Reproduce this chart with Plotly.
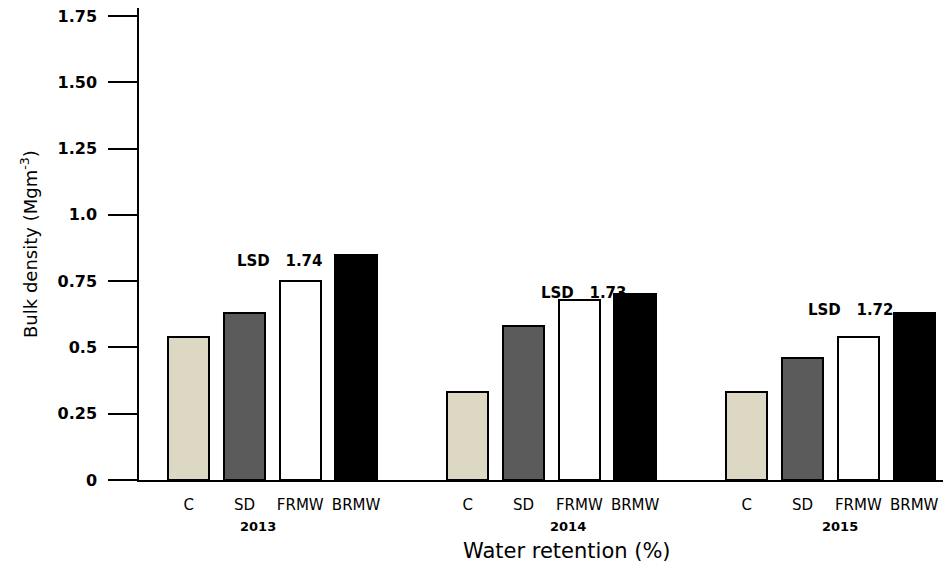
import plotly.graph_objects as go

years = ["2013", "2014", "2015"]
treatments = ["C", "SD", "FRMW", "BRMW"]
values = {
    "C":    [0.54, 0.33, 0.33],
    "SD":   [0.63, 0.58, 0.46],
    "FRMW": [0.75, 0.68, 0.54],
    "BRMW": [0.85, 0.70, 0.63],
}
lsd_values = ["1.74", "1.73", "1.72"]
lsd_heights = [0.825, 0.705, 0.64]
colors = {"C": "#ddd8c3", "SD": "#5b5b5b", "FRMW": "#ffffff", "BRMW": "#000000"}

y_tickvals = [0, 0.25, 0.5, 0.75, 1.0, 1.25, 1.5, 1.75]
y_ticktext = ["0", "0.25", "0.5", "0.75", "1.0", "1.25", "1.50", "1.75"]

GROUP_GAP = 5  # group spacing in slot units
FONT = "DejaVu Sans"

fig = go.Figure()
tick_x, tick_t = [], []
for i, t in enumerate(treatments):
    xs = [g * GROUP_GAP + i for g in range(len(years))]
    tick_x += xs
    tick_t += [t] * len(years)
    fig.add_trace(go.Bar(
        x=xs, y=values[t], width=0.74, name=t,
        marker=dict(color=colors[t], line=dict(color="#000000", width=2)),
        showlegend=False,
    ))

# year labels
year_offsets = [-0.25, 0.3, 0.17]
for g, yr in enumerate(years):
    fig.add_annotation(x=g * GROUP_GAP + 1.5 + year_offsets[g], y=0, xref="x", yref="y",
                       xanchor="center", yshift=-46, text="<b>" + yr + "</b>", showarrow=False,
                       font=dict(family=FONT, size=13, color="#000"))
# LSD labels
lsd_offsets = [0.13, 0.59, 0.37]
for g, (lv, lh) in enumerate(zip(lsd_values, lsd_heights)):
    fig.add_annotation(x=g * GROUP_GAP + 1.5 + lsd_offsets[g], y=lh, xref="x", yref="y",
                       xanchor="center",
                       text="<b>LSD\u00a0\u00a0\u00a0" + lv + "</b>", showarrow=False,
                       font=dict(family=FONT, size=15, color="#000"))

fig.add_annotation(x=0.527, y=0, xref="paper", yref="paper", yshift=-71,
                   xanchor="center", yanchor="middle",
                   text="Water retention (%)", showarrow=False,
                   font=dict(family=FONT, size=21, color="#000"))
fig.add_annotation(x=-0.1355, y=0.5, xref="paper", yref="paper", textangle=-90,
                   xanchor="center", yanchor="middle",
                   text="Bulk density (Mgm<sup>-3</sup>)", showarrow=False,
                   font=dict(family=FONT, size=18, color="#000"))

# page body has an 8px default margin, so the figure is offset by 8px
fig.update_layout(
    width=943, height=557,
    margin=dict(l=131, r=0, t=0, b=85),
    plot_bgcolor="white", paper_bgcolor="white",
    bargap=0,
    xaxis=dict(range=[-0.89, 13.66], showline=True, linecolor="#000", linewidth=2,
               showgrid=False, zeroline=False, tickmode="array",
               tickvals=tick_x, ticktext=tick_t, ticks="", ticklabelstandoff=10,
               tickfont=dict(family=FONT, size=15, color="#000")),
    yaxis=dict(range=[0, 1.78], showline=True, linecolor="#000", linewidth=1.5,
               showgrid=False, zeroline=False, tickmode="array",
               tickvals=y_tickvals, ticktext=y_ticktext, ticks="outside",
               ticklen=29, tickwidth=1.5, tickcolor="#000", ticklabelstandoff=8,
               ticklabeloverflow="allow",
               tickfont=dict(family=FONT, size=16, color="#000", weight="bold")),
)

fig.write_html("out.html")
